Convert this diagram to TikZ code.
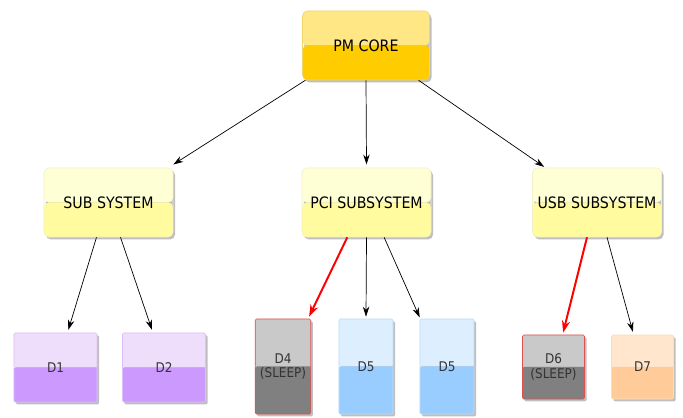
\documentclass[tikz,border=0pt]{standalone}
\usepackage{fontspec}
\setmainfont{DejaVu Sans Condensed}
\usetikzlibrary{shadows,arrows.meta}

\definecolor{coretop}{HTML}{FFE785}
\definecolor{corebot}{HTML}{FFCC00}
\definecolor{coreline}{HTML}{F2D468}
\definecolor{subtop}{HTML}{FFFFD6}
\definecolor{subbot}{HTML}{FFFB9E}
\definecolor{subline}{HTML}{F2F0C4}
\definecolor{violtop}{HTML}{EEDDFB}
\definecolor{violbot}{HTML}{CC99FF}
\definecolor{violline}{HTML}{DDBEF6}
\definecolor{greytop}{HTML}{C9C9C9}
\definecolor{greybot}{HTML}{808080}
\definecolor{bluetop}{HTML}{DDEEFF}
\definecolor{bluebot}{HTML}{99CCFF}
\definecolor{blueline}{HTML}{BCDCF4}
\definecolor{peachtop}{HTML}{FFE6CC}
\definecolor{peachbot}{HTML}{FFCC99}
\definecolor{peachline}{HTML}{FBDDB9}
\definecolor{sleepred}{HTML}{E05050}

\tikzset{
  twotone/.style 2 args={path picture={
      \fill[#1] (path picture bounding box.north west) rectangle (path picture bounding box.east);
      \fill[#2] (path picture bounding box.west) rectangle (path picture bounding box.south east);}},
  boxshadow/.style={drop shadow={shadow xshift=0.05cm,shadow yshift=-0.06cm,fill=black,opacity=0.25}},
  corebox/.style={draw=coreline,rounded corners=0.12cm,twotone={coretop}{corebot},boxshadow,
    inner xsep=1pt,minimum width=3.175cm,minimum height=1.725cm,font=\fontsize{11.2}{13}\selectfont},
  subbox/.style={draw=subline,rounded corners=0.12cm,twotone={subtop}{subbot},boxshadow,
    inner xsep=1pt,minimum width=3.225cm,minimum height=1.725cm,font=\fontsize{11.2}{13}\selectfont},
  devbox/.style={rounded corners=0.03cm,boxshadow,text=black!80,align=center,
    font=\fontsize{9.5}{10.5}\selectfont},
  violet/.style={devbox,draw=violline,twotone={violtop}{violbot}},
  blue/.style={devbox,draw=blueline,twotone={bluetop}{bluebot}},
  peach/.style={devbox,draw=peachline,twotone={peachtop}{peachbot}},
  asleep/.style={devbox,draw=sleepred,twotone={greytop}{greybot}},
  link/.style={-{Stealth[length=0.25cm,width=0.16cm]},line width=0.5pt},
  redlink/.style={-{Stealth[length=0.3cm,width=0.2cm]},line width=1.4pt,red},
}

\begin{document}
\begin{tikzpicture}[x=0.025cm,y=-0.025cm]
  \useasboundingbox (0,0) rectangle (683,418);
  % core and subsystems
  \node[corebox] (pm) at (366,45.5) {PM CORE};
  \node[subbox] (sub) at (108.5,202.5) {SUB SYSTEM};
  \node[subbox] (pci) at (366.5,202.5) {PCI SUBSYSTEM};
  \node[subbox] (usb) at (597,202.5) {USB SUBSYSTEM};
  % devices
  \node[violet,minimum width=2.075cm,minimum height=1.725cm] (d1) at (55.5,367.5) {D1};
  \node[violet,minimum width=2.075cm,minimum height=1.725cm] (d2) at (164,367.5) {D2};
  \node[asleep,minimum width=1.35cm,minimum height=2.375cm] (d4) at (283,366.5) {D4\\(SLEEP)};
  \node[blue,minimum width=1.35cm,minimum height=2.375cm] (d5a) at (366,366.5) {D5};
  \node[blue,minimum width=1.35cm,minimum height=2.375cm] (d5b) at (447,366.5) {D5};
  \node[asleep,minimum width=1.55cm,minimum height=1.6cm] (d6) at (553.5,367) {D6\\(SLEEP)};
  \node[peach,minimum width=1.55cm,minimum height=1.6cm] (d7) at (642.5,367) {D7};
  % connectors
  \draw[link] ([xshift=0.08cm]pm.south west) -- ([yshift=0.08cm]sub.north east);
  \draw[link] (pm.south) -- ([yshift=0.08cm]pci.north);
  \draw[link] ([xshift=-0.28cm]pm.south east) -- ([xshift=0.3cm,yshift=0.02cm]usb.north west);
  \draw[link] ([xshift=-0.3cm]sub.south) -- ([xshift=0.32cm,yshift=0.07cm]d1.north);
  \draw[link] ([xshift=0.3cm]sub.south) -- ([xshift=-0.3cm,yshift=0.07cm]d2.north);
  \draw[redlink] ([xshift=-0.48cm]pci.south) -- ([xshift=-0.05cm,yshift=0.05cm]d4.north east);
  \draw[link] (pci.south) -- ([yshift=0.05cm]d5a.north);
  \draw[link] ([xshift=0.44cm]pci.south) -- ([yshift=0.03cm]d5b.north west);
  \draw[redlink] ([xshift=-0.25cm]usb.south) -- ([xshift=0.24cm,yshift=0.05cm]d6.north);
  \draw[link] ([xshift=0.25cm]usb.south) -- ([xshift=-0.24cm,yshift=0.07cm]d7.north);
\end{tikzpicture}
\end{document}
